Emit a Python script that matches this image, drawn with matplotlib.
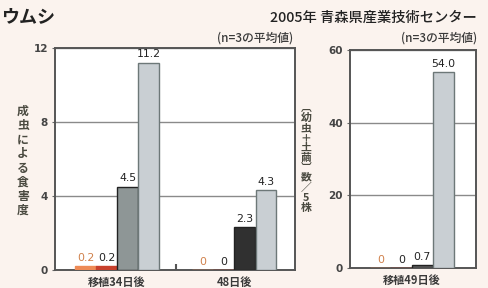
import matplotlib
matplotlib.use("Agg")
import matplotlib.pyplot as plt
import numpy as np

plt.rcParams['font.family'] = ['Noto Sans CJK JP', 'DejaVu Sans']

# ---- data ----
left_groups = ["移植34日後", "48日後"]
left_s1 = [0.2, 0.0]
left_s2 = [0.2, 0.0]
left_s3 = [4.5, 2.3]
left_s4 = [11.2, 4.3]
left_labels = [["0.2", "0.2", "4.5", "11.2"], ["0", "0", "2.3", "4.3"]]

right_groups = ["移植49日後"]
right_s1 = [0.0]
right_s2 = [0.0]
right_s3 = [0.7]
right_s4 = [54.0]
right_labels = [["0", "0", "0.7", "54.0"]]

left_yticks = [0, 4, 8, 12]
right_yticks = [0, 20, 40, 60]

title_text = "ウムシ"
source_text = "2005年 青森県産業技術センター"
note_text = "(n=3の平均値)"
left_ylabel = "成虫による食害度"
right_ylabel = "︹幼虫＋土繭︺数／5株"

# ---- style ----
bg = "#fbf3ee"
c1 = "#ee8a55"
c2 = "#c8402c"
c3_left = ["#8e9696", "#303030"]
c3_right = ["#5a5a5a"]
c4 = "#c9cfd3"
edge4 = "#6d7878"
txt = "#3a3a3a"
lbl1 = "#d0804a"

fig = plt.figure(figsize=(4.88, 2.88), dpi=100, facecolor=bg)

w = 0.175

def draw(ax, groups, s1, s2, s3, s4, labels, c3, yticks, ymax):
    x = np.arange(len(groups))
    offs = np.array([-1.5, -0.5, 0.5, 1.5]) * w * 1.03
    series = [s1, s2, s3, s4]
    for i, s in enumerate(series):
        for g in range(len(groups)):
            if i == 0:
                fc, ec = c1, c1
            elif i == 1:
                fc, ec = c2, c2
            elif i == 2:
                fc, ec = c3[g], "#222222"
            else:
                fc, ec = c4, edge4
            ax.bar(x[g] + offs[i], s[g], width=w, color=fc, edgecolor=ec,
                   linewidth=1.0, zorder=3)
            col = lbl1 if i == 0 else "#222222"
            ax.text(x[g] + offs[i], s[g] + ymax * 0.015, labels[g][i],
                    ha='center', va='bottom', fontsize=7.8, color=col,
                    family=['DejaVu Sans'], zorder=4)
    ax.set_ylim(0, ymax)
    ax.set_yticks(yticks)
    ax.set_yticklabels([str(t) for t in yticks], fontsize=7.5,
                       fontweight='bold', color="#444444",
                       family=['DejaVu Sans'])
    ax.set_xticks(x)
    ax.set_xticklabels(groups, fontsize=8, fontweight='bold', color=txt)
    ax.tick_params(axis='x', length=0, pad=4)
    ax.tick_params(axis='y', length=2, pad=3, color="#666666")
    ax.grid(axis='y', color="#8a8a8a", linewidth=1.0, zorder=1)
    ax.set_axisbelow(True)
    for sp in ax.spines.values():
        sp.set_color("#555555")
        sp.set_linewidth(1.4)
    ax.set_facecolor("white")

axL = fig.add_axes([55/488, 1-270/288, 240/488, 222/288])
draw(axL, left_groups, left_s1, left_s2, left_s3, left_s4, left_labels,
     c3_left, left_yticks, 12)
axL.set_xlim(-0.53, 1.52)
axL.set_xticks([0.5], minor=True)
axL.tick_params(axis='x', which='minor', direction='in', length=4,
                width=1.5, color="#555555")

axR = fig.add_axes([350/488, 1-268/288, 126/488, 218/288])
draw(axR, right_groups, right_s1, right_s2, right_s3, right_s4, right_labels,
     c3_right, right_yticks, 60)
axR.set_xlim(-0.53, 0.55)

fig.text(1/488, 1-17/288, title_text, fontsize=13, fontweight='bold',
         color="#222222", ha='left', va='center')
fig.text(477/488, 1-18/288, source_text, fontsize=10.3, fontweight='medium',
         color="#222222", ha='right', va='center')
fig.text(293/488, 1-38/288, note_text, fontsize=8.5, fontweight='medium',
         color=txt, ha='right', va='center')
fig.text(477/488, 1-38/288, note_text, fontsize=8.5, fontweight='medium',
         color=txt, ha='right', va='center')

fig.text(23/488, 1-161/288, "\n".join(left_ylabel), fontsize=8.5,
         fontweight='bold', color="#4a4a40", ha='center', va='center',
         linespacing=1.12)
fig.text(306/488, 1-158/288, "\n".join(right_ylabel), fontsize=7.8,
         fontweight='bold', color="#4a4a40", ha='center', va='center',
         linespacing=1.0)

fig.savefig("out.png", dpi=100, facecolor=bg)
